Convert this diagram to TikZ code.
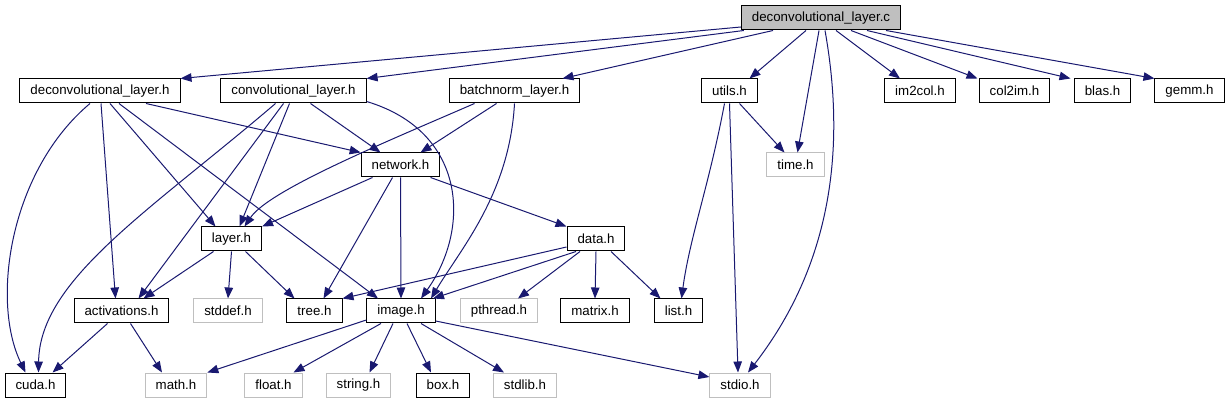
\documentclass[tikz,border=0pt]{standalone}
\usepackage{fontspec}
\setmainfont{Liberation Sans}
\usetikzlibrary{arrows.meta}
\definecolor{depblue}{HTML}{191970}
\definecolor{sysgray}{HTML}{BFBFBF}
\begin{document}
\begin{tikzpicture}[x=1pt, y=-1pt,
  every node/.style={font=\fontsize{13.3}{16}\selectfont},
  hdr/.style={draw=black, fill=white, line width=1pt, inner xsep=10.5pt, inner ysep=0pt, minimum height=24pt},
  syshdr/.style={hdr, draw=sysgray},
  rootfile/.style={hdr, fill=sysgray},
  dep/.style={draw=depblue, line width=1pt, -{Triangle[length=11pt, width=8.5pt]}}]
  \useasboundingbox (0,0) rectangle (1229,403);

  % Root file
  \node[rootfile] (c) at (821,18) {deconvolutional\_layer.c};

  % Second row
  \node[hdr] (dh) at (100,91) {deconvolutional\_layer.h};
  \node[hdr] (ch) at (293.5,91) {convolutional\_layer.h};
  \node[hdr] (bh) at (514.5,91) {batchnorm\_layer.h};
  \node[hdr] (uh) at (729.5,91) {utils.h};
  \node[hdr] (i2c) at (920,91) {im2col.h};
  \node[hdr] (c2i) at (1014.5,91) {col2im.h};
  \node[hdr] (blas) at (1102.5,91) {blas.h};
  \node[hdr] (gemm) at (1189.5,91) {gemm.h};

  % Third and fourth rows
  \node[hdr] (net) at (400.5,165) {network.h};
  \node[syshdr] (tih) at (795.5,165) {time.h};
  \node[hdr] (lay) at (231.5,239) {layer.h};
  \node[hdr] (data) at (596,239) {data.h};

  % Fifth row
  \node[hdr] (act) at (121.5,311) {activations.h};
  \node[syshdr] (std) at (228,311) {stddef.h};
  \node[hdr] (tree) at (314.5,311) {tree.h};
  \node[hdr] (img) at (401,311) {image.h};
  \node[syshdr] (pth) at (499,311) {pthread.h};
  \node[hdr] (mat) at (595,311) {matrix.h};
  \node[hdr] (list) at (678.5,311) {list.h};

  % Bottom row
  \node[hdr] (cuda) at (35.5,385) {cuda.h};
  \node[syshdr] (math) at (176,385) {math.h};
  \node[syshdr] (float) at (273.5,385) {float.h};
  \node[syshdr] (string) at (358.5,385) {string.h};
  \node[hdr] (box) at (443,385) {box.h};
  \node[syshdr] (stdlib) at (525,385) {stdlib.h};
  \node[syshdr] (stdio) at (740,385) {stdio.h};

  % From deconvolutional_layer.c
  \draw[dep] ([yshift=-9pt]c.west) -- (dh.north east);
  \draw[dep] ([xshift=3pt]c.south west) -- (ch.north east);
  \draw[dep] ([xshift=-48pt]c.south) -- ([xshift=48pt]bh.north);
  \draw[dep] ([xshift=-15pt]c.south) -- ([xshift=20pt]uh.north);
  \draw[dep] ([xshift=-2pt]c.south) -- ([xshift=2pt]tih.north);
  \draw[dep] ([xshift=4pt]c.south) .. controls +(25,140) and +(72,-93) .. ([xshift=8pt]stdio.north);
  \draw[dep] ([xshift=15pt]c.south) -- ([xshift=-20pt]i2c.north);
  \draw[dep] ([xshift=30pt]c.south) -- ([xshift=-37pt]c2i.north);
  \draw[dep] ([xshift=46pt]c.south) -- ([xshift=-32pt]blas.north);
  \draw[dep] ([xshift=65pt]c.south) -- (gemm.north west);

  % From deconvolutional_layer.h
  \draw[dep] ([xshift=-10pt]dh.south) .. controls +(-80,67) and +(-35,-72) .. ([xshift=-10pt]cuda.north);
  \draw[dep] ([xshift=1pt]dh.south) -- ([xshift=-6pt]act.north);
  \draw[dep] ([xshift=10pt]dh.south) -- ([xshift=-16pt]lay.north);
  \draw[dep] ([xshift=19pt]dh.south) -- ([xshift=-23pt]img.north);
  \draw[dep] ([xshift=46pt]dh.south) -- (net.north west);

  % From convolutional_layer.h
  \draw[dep] ([xshift=-18pt]ch.south) .. controls +(-125,107) and +(1,-93) .. ([xshift=3pt]cuda.north);
  \draw[dep] ([xshift=-10pt]ch.south) -- ([xshift=17pt]act.north);
  \draw[dep] ([xshift=-4pt]ch.south) -- ([xshift=8pt]lay.north);
  \draw[dep] ([xshift=17pt]ch.south) -- ([xshift=-20pt]net.north);
  \draw[dep] ([yshift=2pt]ch.south east) .. controls +(100,30) and +(50,-70) .. ([xshift=20pt]img.north);

  % From batchnorm_layer.h
  \draw[dep] ([xshift=-40pt]bh.south) .. controls +(-85,37) and +(25,-37) .. ([xshift=13pt]lay.north);
  \draw[dep] ([xshift=-18pt]bh.south) -- ([xshift=20pt]net.north);
  \draw[dep] (bh.south) .. controls +(-5,90) and +(30,-50) .. ([xshift=30pt]img.north);

  % From network.h
  \draw[dep] ([xshift=-28pt]net.south) -- (lay.north east);
  \draw[dep] ([xshift=-8pt]net.south) -- ([xshift=9pt]tree.north);
  \draw[dep] (net.south) -- (img.north);
  \draw[dep] ([xshift=30pt]net.south) -- (data.north west);

  % From utils.h
  \draw[dep] ([xshift=10pt]uh.south) -- ([xshift=-11pt]tih.north);
  \draw[dep] ([xshift=-5pt]uh.south) .. controls +(-15,80) and +(8,-60) .. ([xshift=3pt]list.north);
  \draw[dep] (uh.south) -- ([xshift=-2pt]stdio.north);

  % From layer.h
  \draw[dep] ([xshift=-18pt]lay.south) -- ([xshift=22pt]act.north);
  \draw[dep] (lay.south) -- (std.north);
  \draw[dep] ([xshift=14pt]lay.south) -- ([xshift=-20pt]tree.north);

  % From data.h
  \draw[dep] ([yshift=-8pt]data.west) -- (tree.north east);
  \draw[dep] ([xshift=-20pt]data.south) -- ([xshift=32pt]img.north);
  \draw[dep] ([xshift=-16pt]data.south) -- ([xshift=19pt]pth.north);
  \draw[dep] (data.south) -- (mat.north);
  \draw[dep] ([xshift=15pt]data.south) -- ([xshift=-18pt]list.north);

  % From activations.h
  \draw[dep] ([xshift=-14pt]act.south) -- ([xshift=17pt]cuda.north);
  \draw[dep] ([xshift=9pt]act.south) -- ([xshift=-14pt]math.north);

  % From image.h
  \draw[dep] ([yshift=-9pt]img.west) -- (math.north east);
  \draw[dep] ([xshift=-20pt]img.south) -- ([xshift=20pt]float.north);
  \draw[dep] ([xshift=-8pt]img.south) -- ([xshift=11pt]string.north);
  \draw[dep] ([xshift=6pt]img.south) -- ([xshift=-12pt]box.north);
  \draw[dep] ([xshift=20pt]img.south) -- ([xshift=-21pt]stdlib.north);
  \draw[dep] ([yshift=-10pt]img.east) -- ([yshift=8pt]stdio.west);
\end{tikzpicture}
\end{document}
